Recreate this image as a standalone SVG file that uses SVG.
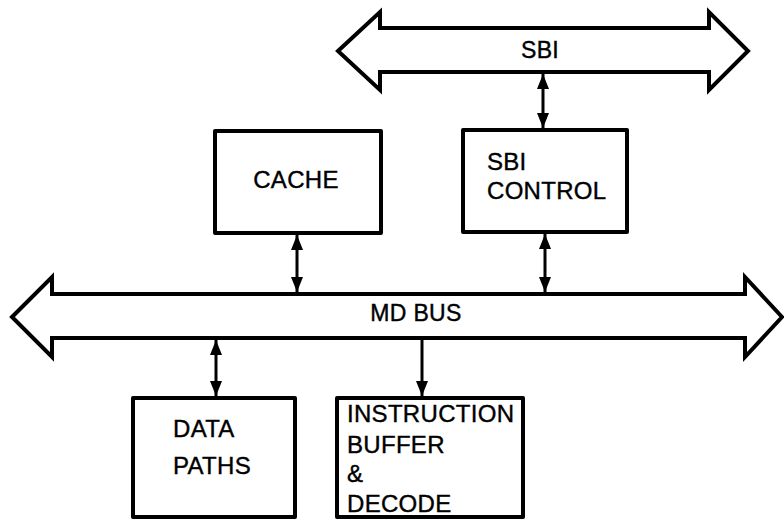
<svg xmlns="http://www.w3.org/2000/svg" width="784" height="519" viewBox="0 0 784 519">
<style>
.box{fill:#fff;stroke:#000;stroke-width:4;stroke-linejoin:round}
.bus{fill:#fff;stroke:#000;stroke-width:4;stroke-linejoin:miter}
.t{font-family:"Liberation Sans",Arial,sans-serif;font-size:24px;fill:#000;stroke:#000;stroke-width:0.4;letter-spacing:0.3px}
.b{font-size:23px}
.c{stroke:#000;stroke-width:3;fill:none}
</style>
<defs>
<marker id="ah" viewBox="0 0 15 12" refX="15" refY="6" markerWidth="15" markerHeight="12" markerUnits="userSpaceOnUse" orient="auto-start-reverse">
<path d="M0,0 L15,6 L0,12 Z" fill="#000"/>
</marker>
</defs>
<g id="sbi-bus">
<path class="bus" d="M338,51 L380,12 L380,28 L709,28 L709,12 L748,51 L709,90 L709,72 L380,72 L380,90 Z"/>
<text class="t b" x="540" y="58" text-anchor="middle">SBI</text>
</g>
<g id="md-bus">
<path class="bus" d="M12,317 L52,277 L52,294 L745,294 L745,277 L782,317 L745,357 L745,338 L52,338 L52,357 Z"/>
<text class="t b" x="416" y="321" text-anchor="middle">MD BUS</text>
</g>
<g id="cache">
<rect class="box" x="215" y="131" width="166" height="102"/>
<text class="t" x="296" y="188" text-anchor="middle">CACHE</text>
</g>
<g id="sbi-control">
<rect class="box" x="463" y="130" width="164" height="102"/>
<text class="t" x="487" y="170">SBI</text>
<text class="t" x="487" y="199">CONTROL</text>
</g>
<g id="data-paths">
<rect class="box" x="133" y="398" width="162" height="119"/>
<text class="t" x="173" y="437">DATA</text>
<text class="t" x="173" y="474">PATHS</text>
</g>
<g id="instruction-buffer">
<rect class="box" x="337" y="398" width="186" height="119"/>
<text class="t" x="347" y="422">INSTRUCTION</text>
<text class="t" x="347" y="453">BUFFER</text>
<text class="t" x="347" y="482">&amp;</text>
<text class="t" x="347" y="512">DECODE</text>
</g>
<g id="connectors">
<line class="c" x1="543" y1="74" x2="543" y2="128" marker-start="url(#ah)" marker-end="url(#ah)"/>
<line class="c" x1="297" y1="235" x2="297" y2="292" marker-start="url(#ah)" marker-end="url(#ah)"/>
<line class="c" x1="545" y1="234" x2="545" y2="292" marker-start="url(#ah)" marker-end="url(#ah)"/>
<line class="c" x1="216" y1="340" x2="216" y2="396" marker-start="url(#ah)" marker-end="url(#ah)"/>
<line class="c" x1="422" y1="340" x2="422" y2="396" marker-end="url(#ah)"/>
</g>
</svg>
